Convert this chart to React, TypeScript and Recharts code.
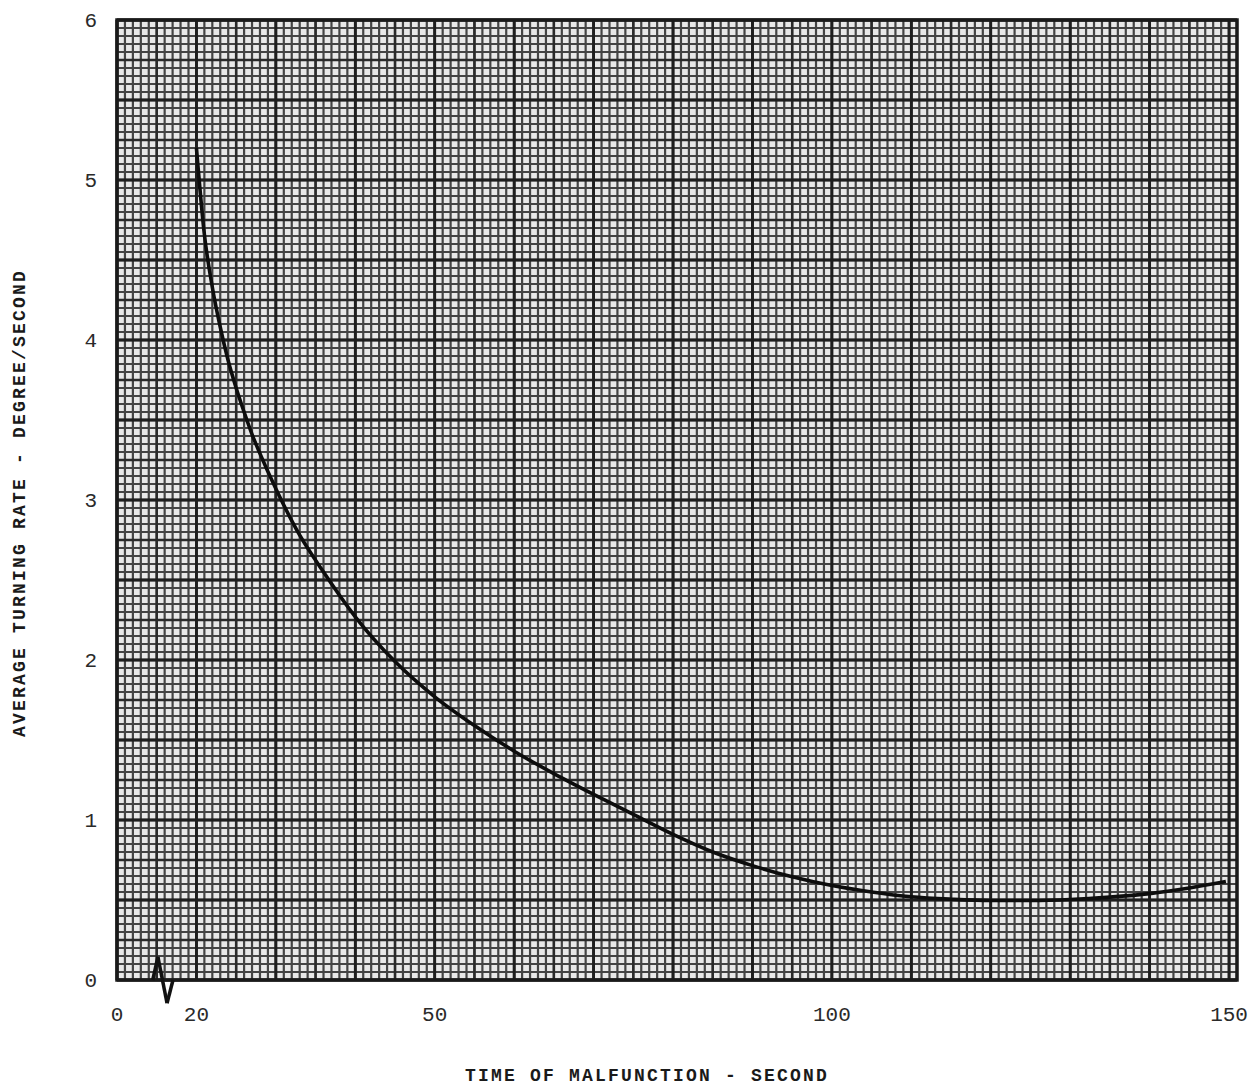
import {
  CartesianGrid,
  Line,
  LineChart,
  ReferenceArea,
  ReferenceLine,
  XAxis,
  YAxis
} from "recharts";

// time of malfunction (s) vs average turning rate (deg/s)
const timeSec = [20, 21, 22, 23, 24, 25, 26, 27, 28, 30, 33, 36, 40, 45, 50, 55, 60, 65, 70, 75, 80, 85, 90, 95, 100, 105, 110, 115, 120, 125, 130, 135, 140, 145, 149.6];
const turnRate = [5.2, 4.66, 4.33, 4.08, 3.87, 3.7, 3.55, 3.41, 3.29, 3.07, 2.78, 2.55, 2.27, 1.99, 1.77, 1.59, 1.43, 1.29, 1.16, 1.035, 0.91, 0.8, 0.715, 0.645, 0.59, 0.55, 0.52, 0.505, 0.497, 0.497, 0.503, 0.518, 0.54, 0.575, 0.615];

const xTickValues = [10, 20, 50, 100, 150];
const xTickLabels = ["0", "20", "50", "100", "150"];
const yTickValues = [0, 1, 2, 3, 4, 5, 6];

// axis break zig-zag on the bottom edge
const breakX = [14.5, 15.15, 16.3, 17.05];
const breakY = [0, 0.145, -0.145, 0];

const X_MIN = 10;
const X_MAX = 151;
const Y_MAX = 6;

// graph paper rulings
const fineX = Array.from({ length: X_MAX - X_MIN + 1 }, (_, i) => X_MIN + i);
const midX = fineX.filter((v) => v % 5 === 0);
const majorX = fineX.filter((v) => v % 10 === 0);
const fineY = Array.from({ length: 121 }, (_, i) => Math.round(i * 5) / 100);
const midY = fineY.filter((v) => Math.round(v * 100) % 25 === 0);
const majorY = fineY.filter((v) => Math.round(v * 100) % 50 === 0);

const data = timeSec.map((t, i) => ({ t, rate: turnRate[i] }));

const FONT = "'Liberation Mono', 'DejaVu Sans Mono', monospace";

const vGen = (vals: number[]) => ({ xAxis, offset }: any) =>
  vals.map((v) =>
    xAxis && typeof xAxis.scale === "function"
      ? xAxis.scale(v)
      : offset.left + ((v - X_MIN) / (X_MAX - X_MIN)) * offset.width
  );

const hGen = (vals: number[]) => ({ yAxis, offset }: any) =>
  vals.map((v) =>
    yAxis && typeof yAxis.scale === "function"
      ? yAxis.scale(v)
      : offset.top + (1 - v / Y_MAX) * offset.height
  );

export default function App() {
  return (
    <div style={{ position: "absolute", left: 0, top: 0, background: "#fff" }}>
      <LineChart
        width={1254}
        height={1085}
        data={data}
        margin={{ top: 20, right: 17, bottom: 0, left: 0 }}
      >
        <XAxis
          dataKey="t"
          type="number"
          domain={[X_MIN, X_MAX]}
          ticks={xTickValues}
          interval={0}
          tickFormatter={(v) => xTickLabels[xTickValues.indexOf(v)] ?? String(v)}
          tickLine={false}
          axisLine={false}
          tickMargin={20}
          height={105}
          tick={{ fill: "#2a2a2a", fontSize: 21, fontFamily: FONT }}
          label={{
            value: "TIME OF MALFUNCTION  - SECOND",
            position: "insideBottom",
            offset: 4,
            dx: -30,
            fill: "#1a1a1a",
            fontSize: 18,
            fontWeight: "bold",
            fontFamily: FONT,
            letterSpacing: 2.2,
            style: { whiteSpace: "pre" }
          }}
        />
        <YAxis
          type="number"
          domain={[0, Y_MAX]}
          ticks={yTickValues}
          interval={0}
          tickLine={false}
          axisLine={false}
          tickMargin={14}
          width={117}
          tick={{ fill: "#2a2a2a", fontSize: 21, fontFamily: FONT }}
          label={{
            content: ({ viewBox }: any) => {
              const cy = viewBox.y + viewBox.height / 2 + 3;
              return (
                <text
                  x={20}
                  y={cy}
                  transform={`rotate(-90, 20, ${cy})`}
                  textAnchor="middle"
                  dominantBaseline="central"
                  fill="#1a1a1a"
                  fontSize={18}
                  fontWeight="bold"
                  fontFamily={FONT}
                  letterSpacing={2.2}
                >
                  AVERAGE TURNING RATE - DEGREE/SECOND
                </text>
              );
            }
          }}
        />

        <CartesianGrid
          fill="#e8e8e8"
          fillOpacity={1}
          stroke="#444"
          strokeWidth={2.2}
          verticalCoordinatesGenerator={vGen(fineX)}
          horizontalCoordinatesGenerator={hGen(fineY)}
        />
        <CartesianGrid
          stroke="#2a2a2a"
          strokeWidth={2.5}
          verticalCoordinatesGenerator={vGen(midX)}
          horizontalCoordinatesGenerator={hGen(midY)}
        />
        <CartesianGrid
          stroke="#1e1e1e"
          strokeWidth={2.8}
          verticalCoordinatesGenerator={vGen(majorX)}
          horizontalCoordinatesGenerator={hGen(majorY)}
        />

        <ReferenceArea
          x1={X_MIN}
          x2={X_MAX}
          y1={0}
          y2={Y_MAX}
          fill="none"
          stroke="#1a1a1a"
          strokeWidth={3.5}
          ifOverflow="visible"
        />

        <Line
          type="monotone"
          dataKey="rate"
          stroke="#0d0d0d"
          strokeWidth={3.6}
          dot={false}
          isAnimationActive={false}
        />

        {breakX.slice(1).map((x, i) => (
          <ReferenceLine
            key={i}
            segment={[
              { x: breakX[i], y: breakY[i] },
              { x, y: breakY[i + 1] }
            ]}
            stroke="#111"
            strokeWidth={3.5}
            ifOverflow="visible"
          />
        ))}
      </LineChart>
    </div>
  );
}
